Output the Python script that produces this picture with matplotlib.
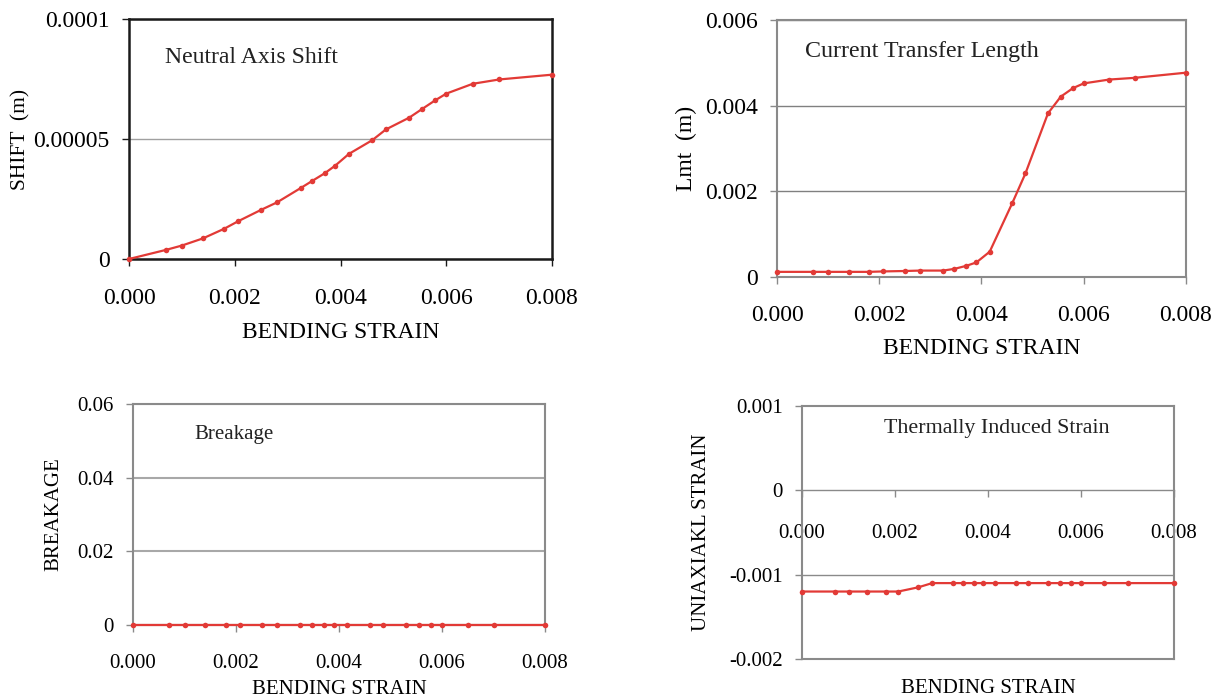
import matplotlib
matplotlib.use("Agg")
import matplotlib.pyplot as plt
from matplotlib.lines import Line2D

plt.rcParams['font.family'] = ['Liberation Serif', 'DejaVu Serif']

# Shared abscissa: bending strain
strain = [0.0, 0.0007, 0.0010, 0.0014, 0.0018, 0.00207, 0.0025, 0.0028,
          0.00325, 0.00347, 0.0037, 0.0039, 0.00416, 0.0046, 0.00486,
          0.0053, 0.00555, 0.00579, 0.0060, 0.0065, 0.0070, 0.0080]

shift = [0.0, 0.0000038, 0.0000056, 0.0000086, 0.0000126, 0.0000158,
         0.0000205, 0.0000236, 0.0000296, 0.0000326, 0.0000357, 0.0000389,
         0.0000438, 0.0000495, 0.0000540, 0.0000589, 0.0000626, 0.0000661,
         0.0000689, 0.0000730, 0.0000748, 0.0000768]

lmt = [0.00012, 0.00012, 0.00012, 0.00012, 0.00012, 0.00013, 0.00014,
       0.00015, 0.00015, 0.00019, 0.00026, 0.00034, 0.00059, 0.00172,
       0.00242, 0.00382, 0.00421, 0.00441, 0.00452, 0.00461, 0.00465,
       0.00477]

breakage = [0.0] * 22

uniaxial = [-0.0012, -0.0012, -0.0012, -0.0012, -0.0012, -0.0012,
            -0.00115, -0.0011, -0.0011, -0.0011, -0.0011, -0.0011, -0.0011,
            -0.0011, -0.0011, -0.0011, -0.0011, -0.0011, -0.0011, -0.0011,
            -0.0011, -0.0011]

x_ticks = [0.0, 0.002, 0.004, 0.006, 0.008]
x_ticklabels = ["0.000", "0.002", "0.004", "0.006", "0.008"]

W, H = 1220, 698
RED = "#e23a36"

fig = plt.figure(figsize=(W / 100, H / 100), dpi=100)


def rect(l, t, r, b):
    return [l / W, 1 - b / H, (r - l) / W, (b - t) / H]


def style(ax, frame_color, frame_lw, fs, grid_color, grid_lw):
    for s in ax.spines.values():
        s.set_color(frame_color)
        s.set_linewidth(frame_lw)
    ax.tick_params(axis='both', direction='out', length=5, width=1,
                   color=frame_color, labelsize=fs)
    ax.grid(axis='y', color=grid_color, linewidth=grid_lw)
    ax.set_axisbelow(True)
    ax.set_xlim(0, 0.008)
    ax.set_xticks(x_ticks)
    ax.set_xticklabels(x_ticklabels)


def series(ax, y):
    ax.plot(strain, y, color=RED, lw=1.6, marker='o', ms=4,
            markeredgewidth=0, clip_on=False, zorder=5)


# --- Neutral axis shift ---
ax1 = fig.add_axes(rect(129, 19, 552, 259))
style(ax1, "#1a1a1a", 1.8, 17, "#a0a0a0", 1.0)
series(ax1, shift)
ax1.set_ylim(0, 0.0001)
ax1.set_yticks([0, 0.00005, 0.0001])
ax1.set_yticklabels(["0", "0.00005", "0.0001"])
ax1.tick_params(axis='x', pad=16)
ax1.tick_params(axis='y', pad=9)
ax1.set_xlabel("BENDING STRAIN", fontsize=17)
ax1.xaxis.set_label_coords(0.5, -0.263)
ax1.set_ylabel("SHIFT  (m)", fontsize=15.5)
ax1.yaxis.set_label_coords(-0.233, 0.5)
ax1.text(0.085, 0.84, "Neutral Axis Shift", transform=ax1.transAxes,
         fontsize=17.1, va='center', ha='left', color="#222222")

# --- Current transfer length ---
ax2 = fig.add_axes(rect(777, 20, 1186, 277))
style(ax2, "#8a8a8a", 1.5, 17, "#808080", 1.0)
series(ax2, lmt)
ax2.set_ylim(0, 0.006)
ax2.set_yticks([0, 0.002, 0.004, 0.006])
ax2.set_yticklabels(["0", "0.002", "0.004", "0.006"])
ax2.tick_params(axis='x', pad=15)
ax2.tick_params(axis='y', pad=9)
ax2.set_xlabel("BENDING STRAIN", fontsize=17)
ax2.xaxis.set_label_coords(0.5, -0.239)
ax2.set_ylabel("Lmt  (m)", fontsize=17)
ax2.yaxis.set_label_coords(-0.195, 0.5)
ax2.text(0.068, 0.876, "Current Transfer Length", transform=ax2.transAxes,
         fontsize=17.3, va='center', ha='left', color="#222222")

# --- Breakage ---
ax3 = fig.add_axes(rect(133, 404, 545, 625))
style(ax3, "#8a8a8a", 1.5, 15, "#a8a8a8", 1.5)
series(ax3, breakage)
ax3.set_ylim(0, 0.06)
ax3.set_yticks([0, 0.02, 0.04, 0.06])
ax3.set_yticklabels(["0", "0.02", "0.04", "0.06"])
ax3.tick_params(axis='x', pad=16)
ax3.tick_params(axis='y', pad=9)
ax3.set_xlabel("BENDING STRAIN", fontsize=15)
ax3.xaxis.set_label_coords(0.5, -0.249)
ax3.set_ylabel("BREAKAGE", fontsize=15)
ax3.yaxis.set_label_coords(-0.170, 0.5)
ax3.text(0.15, 0.86, "Breakage", transform=ax3.transAxes,
         fontsize=15, va='center', ha='left', color="#222222")

# --- Thermally induced strain ---
ax4 = fig.add_axes(rect(802, 406, 1174, 659))
style(ax4, "#8a8a8a", 1.5, 15, "#8a8a8a", 1.0)
ax4.grid(False)
ax4.axhline(-0.001, color="#8a8a8a", lw=1.0, zorder=1)
series(ax4, uniaxial)
ax4.set_ylim(-0.002, 0.001)
ax4.set_yticks([-0.002, -0.001, 0, 0.001])
ax4.set_yticklabels(["-0.002", "-0.001", "0", "0.001"])
ax4.spines['bottom'].set_position(('data', 0))
ax4.spines['bottom'].set_linewidth(1.0)
# closing edge of the frame at the bottom of the plot area
ax4.add_line(Line2D([0, 1], [0, 0], transform=ax4.transAxes,
                    color="#8a8a8a", lw=1.5, clip_on=False))
ax4.tick_params(axis='x', pad=19)
ax4.tick_params(axis='y', pad=9)
ax4.set_xlabel("BENDING STRAIN", fontsize=15)
ax4.xaxis.set_label_coords(0.5, -0.079)
ax4.set_ylabel("UNIAXIAKL STRAIN", fontsize=15)
ax4.yaxis.set_label_coords(-0.244, 0.5)
ax4.text(0.22, 0.91, "Thermally Induced Strain", transform=ax4.transAxes,
         fontsize=15.8, va='center', ha='left', color="#222222")

fig.savefig("out.png", dpi=100, facecolor="white")
